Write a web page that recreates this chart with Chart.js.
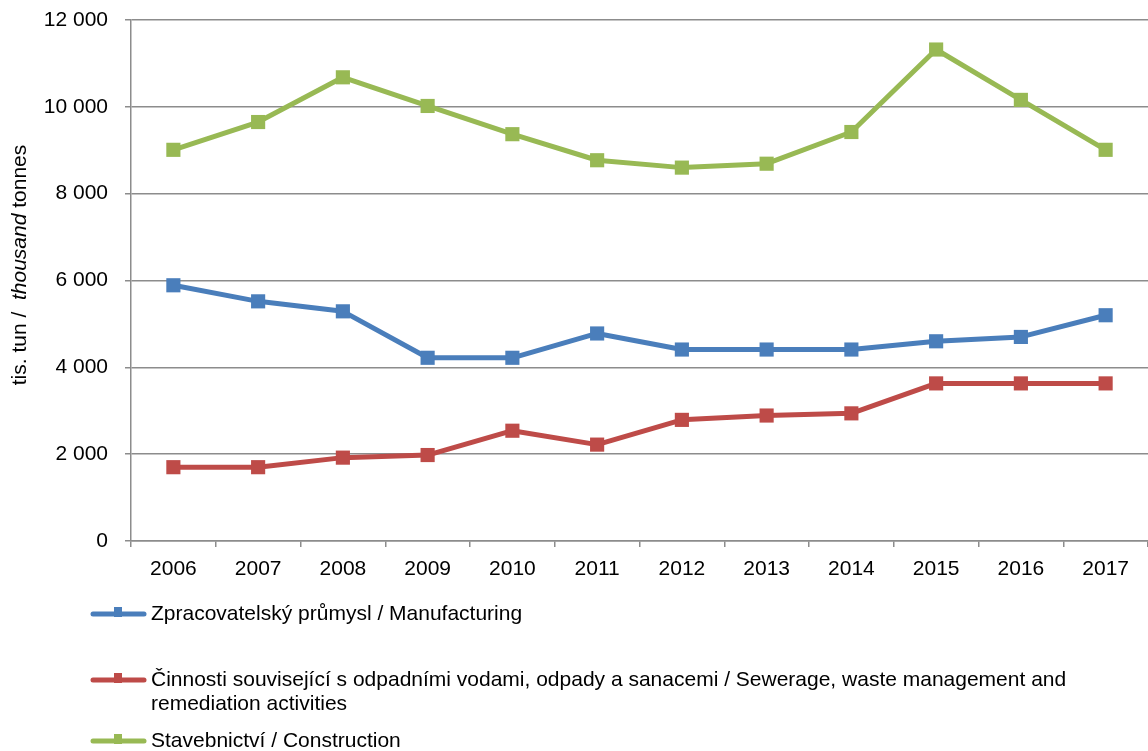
<!DOCTYPE html>
<html>
<head>
<meta charset="utf-8">
<script src="https://cdn.jsdelivr.net/npm/chart.js@4.4.1/dist/chart.umd.min.js"></script>
<style>
    html, body { margin: 0; padding: 0; background: #fff; }
    #wrap { width: 1148px; height: 751px; }
</style>
</head>
<body>
<div id="wrap"><canvas id="wasteChart" width="1148" height="751"></canvas></div>
<script>
const years = ['2006', '2007', '2008', '2009', '2010', '2011', '2012', '2013', '2014', '2015', '2016', '2017'];
const manufacturing = [5890, 5520, 5290, 4220, 4220, 4780, 4410, 4410, 4410, 4600, 4700, 5200];
const sewerage = [1700, 1700, 1920, 1980, 2540, 2220, 2790, 2890, 2940, 3630, 3630, 3630];
const construction = [9010, 9650, 10680, 10020, 9370, 8770, 8600, 8690, 9420, 11320, 10160, 9010];
const seriesLabels = [
    'Zpracovatelský průmysl / Manufacturing',
    'Činnosti související s odpadními vodami, odpady a sanacemi / Sewerage, waste management and remediation activities',
    'Stavebnictví / Construction'
];
const seriesColors = ['#4a7ebb', '#be4b48', '#98b954'];

const FONT = '"Liberation Sans", Arial, sans-serif';
const gridColor = '#8c8c8c';

function makeDataset(label, values, color) {
    return {
        label: label,
        data: values,
        borderColor: color,
        backgroundColor: color,
        borderWidth: 5,
        borderJoinStyle: 'round',
        pointStyle: 'rect',
        pointRadius: 10,
        pointHoverRadius: 10,
        pointBorderWidth: 0,
        pointBackgroundColor: color,
        tension: 0,
        fill: false
    };
}

// rotated y title, "thousand" in italics
const yTitlePlugin = {
    id: 'yTitle',
    afterDraw(chart) {
        const ctx = chart.ctx;
        const parts = [
            { text: 'tis. tun /  ', style: '' },
            { text: 'thousand', style: 'italic ' },
            { text: ' tonnes', style: '' }
        ];
        ctx.save();
        let total = 0;
        parts.forEach(p => {
            ctx.font = p.style + '21px ' + FONT;
            p.w = ctx.measureText(p.text).width;
            total += p.w;
        });
        ctx.translate(20, 265);
        ctx.rotate(-Math.PI / 2);
        ctx.fillStyle = '#000';
        ctx.textBaseline = 'middle';
        let x = -total / 2;
        parts.forEach(p => {
            ctx.font = p.style + '21px ' + FONT;
            ctx.fillText(p.text, x, 0);
            x += p.w;
        });
        ctx.restore();
    }
};

// legend under the chart, one item per row, long labels wrapped
const legendPlugin = {
    id: 'stackedLegend',
    afterDraw(chart) {
        const ctx = chart.ctx;
        const rowY = [614, 680, 741];
        const textX = 151;
        const maxWidth = 977;
        ctx.save();
        ctx.font = '21px ' + FONT;
        ctx.textBaseline = 'middle';
        chart.data.datasets.forEach((ds, i) => {
            const y = rowY[i];
            ctx.beginPath();
            ctx.moveTo(93, y);
            ctx.lineTo(144, y);
            ctx.strokeStyle = ds.borderColor;
            ctx.lineWidth = 5;
            ctx.lineCap = 'round';
            ctx.stroke();
            ctx.fillStyle = ds.borderColor;
            ctx.fillRect(114, y - 7, 8, 10);

            const words = ds.label.split(' ');
            const lines = [];
            let line = '';
            words.forEach(w => {
                const test = line ? line + ' ' + w : w;
                if (ctx.measureText(test).width > maxWidth && line) {
                    lines.push(line);
                    line = w;
                } else {
                    line = test;
                }
            });
            lines.push(line);
            ctx.fillStyle = '#000';
            lines.forEach((l, j) => ctx.fillText(l, textX, y + j * 24));
        });
        ctx.restore();
    }
};

const ctx = document.getElementById('wasteChart').getContext('2d');
new Chart(ctx, {
    type: 'line',
    data: {
        labels: years,
        datasets: [
            makeDataset(seriesLabels[0], manufacturing, seriesColors[0]),
            makeDataset(seriesLabels[1], sewerage, seriesColors[1]),
            makeDataset(seriesLabels[2], construction, seriesColors[2])
        ]
    },
    options: {
        responsive: false,
        animation: false,
        layout: {
            autoPadding: false,
            padding: { top: 20, right: 0, bottom: 160, left: 0 }
        },
        plugins: {
            legend: { display: false },
            tooltip: { enabled: false }
        },
        scales: {
            x: {
                offset: true,
                grid: {
                    offset: true,
                    drawOnChartArea: false,
                    color: gridColor,
                    lineWidth: 1.5,
                    tickLength: 6
                },
                border: { color: gridColor, width: 1.5 },
                ticks: {
                    color: '#000',
                    font: { family: FONT, size: 21 },
                    padding: 10,
                    maxRotation: 0
                },
                afterFit(scale) {
                    scale.height = 50;
                    scale.paddingLeft = 0;
                    scale.paddingRight = 0;
                }
            },
            y: {
                min: 0,
                max: 12000,
                grid: {
                    color: gridColor,
                    lineWidth: 1.5,
                    tickLength: 6
                },
                border: { color: gridColor, width: 1.5 },
                ticks: {
                    stepSize: 2000,
                    color: '#000',
                    font: { family: FONT, size: 21 },
                    padding: 17,
                    callback: function (value) {
                        return String(value).replace(/\B(?=(\d{3})+(?!\d))/g, ' ');
                    }
                },
                afterFit(scale) {
                    scale.width = 131;
                    scale.paddingTop = 0;
                    scale.paddingBottom = 0;
                }
            }
        }
    },
    plugins: [yTitlePlugin, legendPlugin]
});
</script>
</body>
</html>
